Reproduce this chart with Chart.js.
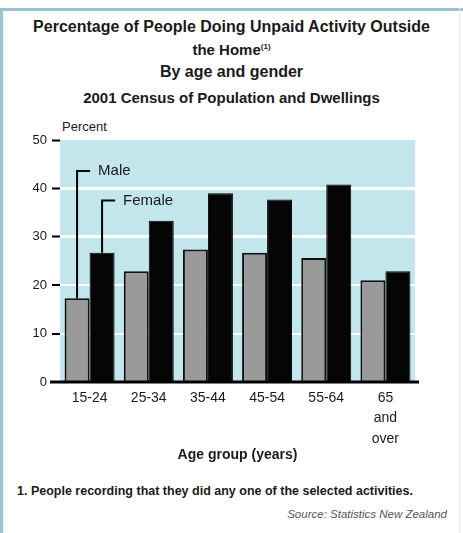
<!DOCTYPE html>
<html>
<head>
<meta charset="utf-8">
<script src="https://cdn.jsdelivr.net/npm/chart.js@4.4.1/dist/chart.umd.min.js"></script>
<style>
  html, body { margin: 0; padding: 0; background: #fff; }
  #frame {
    position: relative; width: 463px; height: 533px; overflow: hidden;
    font-family: "Liberation Sans", Arial, sans-serif; color: #1a1a1a;
  }
  #frame .edgeTop { position: absolute; left: 0; top: 8px; width: 463px; height: 3px; background: #9cc2d1; }
  #frame .edgeLeft { position: absolute; left: 0; top: 8px; width: 3px; height: 525px; background: #9cc2d1; }
  #frame .edgeRight { position: absolute; left: 459px; top: 8px; width: 1px; height: 525px; background: #e3eef2; }
  .title { position: absolute; left: 0; width: 463px; text-align: center; font-size: 16px; font-weight: bold; line-height: 18px; }
  .title sup { font-size: 8px; }
  #percent { position: absolute; left: 62px; top: 119px; font-size: 13px; }
  #note { position: absolute; left: 17px; top: 484px; font-size: 12.5px; font-weight: bold; }
  #source { position: absolute; right: 16px; top: 508px; font-size: 11.5px; font-style: italic; color: #555; }
  canvas { position: absolute; left: 0; top: 110px; }
</style>
</head>
<body>
<div id="frame">
  <div class="edgeTop"></div><div class="edgeLeft"></div><div class="edgeRight"></div>
  <div class="title" style="top:18px">Percentage of People Doing Unpaid Activity Outside</div>
  <div class="title" style="top:38px;font-size:15px">the Home<sup>(1)</sup></div>
  <div class="title" style="top:63px">By age and gender</div>
  <div class="title" style="top:89px;font-size:15px">2001 Census of Population and Dwellings</div>
  <div id="percent">Percent</div>
  <canvas id="chart" width="463" height="360"></canvas>
  <div id="note">1. People recording that they did any one of the selected activities.</div>
  <div id="source">Source: Statistics New Zealand</div>
</div>
<script>
// -------------------------
// DATA
// -------------------------
const ageGroups = ["15-24", "25-34", "35-44", "45-54", "55-64", ["65", "and", "over"]];
const maleValues = [17.3, 22.9, 27.4, 26.7, 25.6, 21.0];
const femaleValues = [26.7, 33.3, 39.0, 37.7, 40.8, 22.9];
const yTicks = [0, 10, 20, 30, 40, 50];

// label callouts: [dataset index, value the leader line rises to, text]
const callouts = [
    [0, 43.6, "Male"],
    [1, 37.5, "Female"]
];

// -------------------------
// PLUGIN: background, baseline, callouts
// -------------------------
const chartDecor = {
    id: "chartDecor",
    beforeDraw(chart) {
        const { ctx, chartArea: a } = chart;
        ctx.save();
        ctx.fillStyle = "#c3e5ec";
        ctx.fillRect(a.left, a.top, a.right - a.left, a.bottom - a.top);
        ctx.restore();
    },
    afterDatasetsDraw(chart) {
        const { ctx, chartArea: a, scales } = chart;
        ctx.save();
        // baseline
        ctx.strokeStyle = "#000";
        ctx.lineWidth = 3;
        ctx.beginPath();
        ctx.moveTo(a.left - 10, a.bottom);
        ctx.lineTo(a.right + 4, a.bottom);
        ctx.stroke();

        // callouts
        ctx.lineWidth = 2;
        ctx.font = "15px 'Liberation Sans', Arial, sans-serif";
        ctx.fillStyle = "#1a1a1a";
        ctx.textBaseline = "middle";
        callouts.forEach(([ds, val, text]) => {
            const bar = chart.getDatasetMeta(ds).data[0];
            const x = bar.x;
            const y = scales.y.getPixelForValue(val);
            ctx.beginPath();
            ctx.moveTo(x, bar.y);
            ctx.lineTo(x, y);
            ctx.lineTo(x + 13, y);
            ctx.stroke();
            ctx.fillText(text, x + 21, y);
        });
        ctx.restore();
    }
};

// -------------------------
// CHART
// -------------------------
new Chart(document.getElementById("chart"), {
    type: "bar",
    data: {
        labels: ageGroups,
        datasets: [
            {
                label: "Male",
                data: maleValues,
                backgroundColor: "#9a9a9a",
                borderColor: "#111",
                borderWidth: 2,
                borderSkipped: "bottom"
            },
            {
                label: "Female",
                data: femaleValues,
                backgroundColor: "#050505",
                borderColor: "#050505",
                borderWidth: 1,
                borderSkipped: "bottom"
            }
        ]
    },
    options: {
        responsive: false,
        devicePixelRatio: 1,
        animation: false,
        layout: { padding: { top: 30, right: 48, left: 0, bottom: 0 } },
        plugins: { legend: { display: false }, tooltip: { enabled: false } },
        datasets: { bar: { categoryPercentage: 0.845, barPercentage: 1.0 } },
        scales: {
            x: {
                grid: { display: false, drawTicks: false },
                border: { display: false },
                ticks: {
                    padding: 6,
                    color: "#1a1a1a",
                    maxRotation: 0,
                    font: { family: "'Liberation Sans', Arial, sans-serif", size: 14, lineHeight: 1.45 }
                },
                title: {
                    display: true,
                    text: "Age group (years)",
                    color: "#1a1a1a",
                    padding: { top: 0, bottom: 6 },
                    font: { family: "'Liberation Sans', Arial, sans-serif", size: 14, weight: "bold" }
                },
                afterFit: s => { s.height = 88; }
            },
            y: {
                min: 0,
                max: 50,
                afterBuildTicks: s => { s.ticks = yTicks.map(v => ({ value: v })); },
                border: { display: false },
                grid: {
                    color: c => (c.tick && (c.tick.value === 0 || c.tick.value === 50)) ? "rgba(0,0,0,0)" : "#ffffff",
                    lineWidth: c => (c.tick && c.tick.value >= 30) ? 3 : 2,
                    tickColor: "#000",
                    tickWidth: 2,
                    tickLength: 8
                },
                ticks: {
                    padding: 5,
                    color: "#1a1a1a",
                    font: { family: "'Liberation Sans', Arial, sans-serif", size: 13 }
                },
                afterFit: s => { s.width = 60; }
            }
        }
    },
    plugins: [chartDecor]
});
</script>
</body>
</html>
